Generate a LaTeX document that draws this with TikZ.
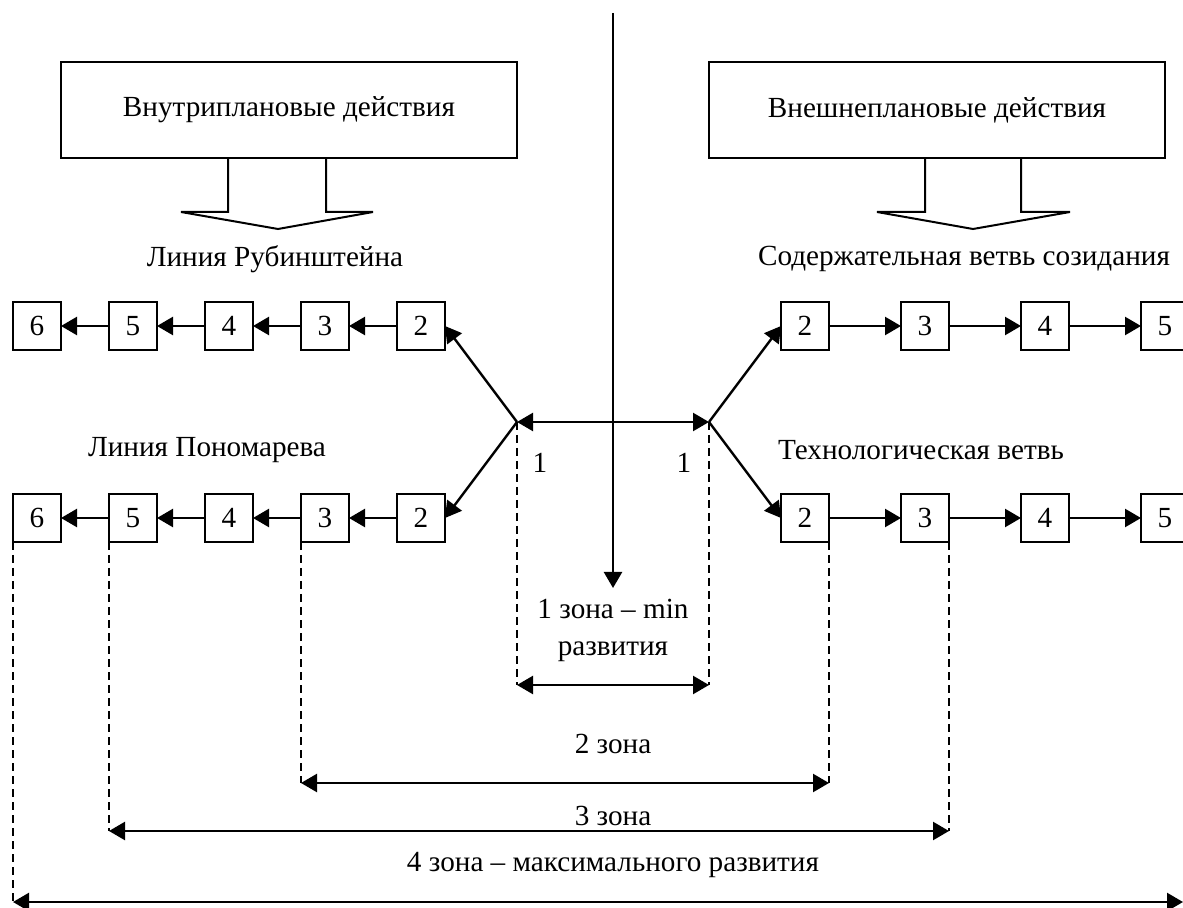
\documentclass[tikz,border=0pt]{standalone}
\usepackage{fontspec}
\setmainfont{Liberation Serif}
\usetikzlibrary{positioning}
\usetikzlibrary{arrows.meta}
\tikzset{every node/.style={font=\fontsize{14.6}{18.5}\selectfont},
         numbox/.style={draw,line width=1pt,minimum size=24pt,inner sep=0pt,outer sep=0pt},
         planbox/.style={draw,line width=1pt,minimum width=228pt,minimum height=48pt},
         link/.style={line width=1.2pt,-{Triangle[length=8pt,width=9pt]}},
         zone/.style={line width=1.2pt,{Triangle[length=8pt,width=9pt]}-{Triangle[length=8pt,width=9pt]}},
         guide/.style={line width=0.6pt,dash pattern=on 4pt off 2.5pt},
         blockarrow/.style={line width=1pt}}

\begin{document}
\begin{tikzpicture}[x=0.5pt,y=-0.5pt]
  \useasboundingbox (0,0) rectangle (1183,908);

  % planning boxes
  \node[planbox] (inplan) at (289,110) {Внутриплановые действия};
  \node[planbox] (outplan) at (937,110) {Внешнеплановые действия};
  \draw[blockarrow] (228,158) -- (228,212) -- (181,212) -- (278,229)
    -- (373,212) -- (326,212) -- (326,158);
  \draw[blockarrow] (925,158) -- (925,212) -- (877,212) -- (973,229)
    -- (1070,212) -- (1021,212) -- (1021,158);

  % line names
  \node (rubin) at (275,259) {Линия Рубинштейна};
  \node (ponom) at (207,450) {Линия Пономарева};
  \node (sozid) at (964,259) {Содержательная ветвь созидания};
  \node (tehno) at (921,450) {Технологическая ветвь};

  % left rows
  \node[numbox] (lt2) at (421,326) {2};
  \node[numbox, left=24pt of lt2] (lt3) {3};
  \node[numbox, left=24pt of lt3] (lt4) {4};
  \node[numbox, left=24pt of lt4] (lt5) {5};
  \node[numbox, left=24pt of lt5] (lt6) {6};
  \node[numbox] (lb2) at (421,518) {2};
  \node[numbox, left=24pt of lb2] (lb3) {3};
  \node[numbox, left=24pt of lb3] (lb4) {4};
  \node[numbox, left=24pt of lb4] (lb5) {5};
  \node[numbox, left=24pt of lb5] (lb6) {6};

  % right rows
  \node[numbox] (rt2) at (805,326) {2};
  \node[numbox, right=36pt of rt2] (rt3) {3};
  \node[numbox, right=36pt of rt3] (rt4) {4};
  \node[numbox, right=36pt of rt4] (rt5) {5};
  \node[numbox] (rb2) at (805,518) {2};
  \node[numbox, right=36pt of rb2] (rb3) {3};
  \node[numbox, right=36pt of rb3] (rb4) {4};
  \node[numbox, right=36pt of rb4] (rb5) {5};

  \foreach \a/\b in {2/3,3/4,4/5,5/6} {
    \draw[link] (lt\a) -- (lt\b);
    \draw[link] (lb\a) -- (lb\b);
  }
  \foreach \a/\b in {2/3,3/4,4/5} {
    \draw[link] (rt\a) -- (rt\b);
    \draw[link] (rb\a) -- (rb\b);
  }

  % branching
  \coordinate (fork l) at (517,422);
  \coordinate (fork r) at (709,422);
  \coordinate (top) at (613,13);
  \coordinate (down) at (613,588);
  \draw[zone] (fork l) -- (fork r);
  \draw[link] (fork l) -- (lt2.east);
  \draw[link] (fork l) -- (lb2.east);
  \draw[link] (fork r) -- (rt2.west);
  \draw[link] (fork r) -- (rb2.west);
  \draw[link] (top) -- (down);
  \node (one l) at (540,463) {1};
  \node (one r) at (684,463) {1};

  % zones
  \coordinate (z1 l) at (517,685);
  \coordinate (z1 r) at (709,685);
  \draw[guide] (fork l) -- (z1 l);
  \draw[guide] (fork r) -- (z1 r);
  \draw[zone] (z1 l) -- (z1 r);
  \node[align=center] (zone1) at (613,630) {1 зона -- min\\развития};

  \coordinate (z2 l) at (lb3.south west |- 0,783);
  \coordinate (z2 r) at (rb2.south east |- 0,783);
  \draw[guide] (lb3.south west) -- (z2 l);
  \draw[guide] (rb2.south east) -- (z2 r);
  \draw[zone] (z2 l) -- (z2 r);
  \node (zone2) at (613,744) {2 зона};

  \coordinate (z3 l) at (lb5.south west |- 0,831);
  \coordinate (z3 r) at (rb3.south east |- 0,831);
  \draw[guide] (lb5.south west) -- (z3 l);
  \draw[guide] (rb3.south east) -- (z3 r);
  \draw[zone] (z3 l) -- (z3 r);
  \node (zone3) at (613,816) {3 зона};

  \coordinate (z4 l) at (lb6.south west |- 0,902);
  \coordinate (z4 r) at (1183,902);
  \draw[guide] (lb6.south west) -- (z4 l);
  \draw[zone] (z4 l) -- (z4 r);
  \node (zone4) at (613,865) {4 зона -- максимального развития};
\end{tikzpicture}
\end{document}
